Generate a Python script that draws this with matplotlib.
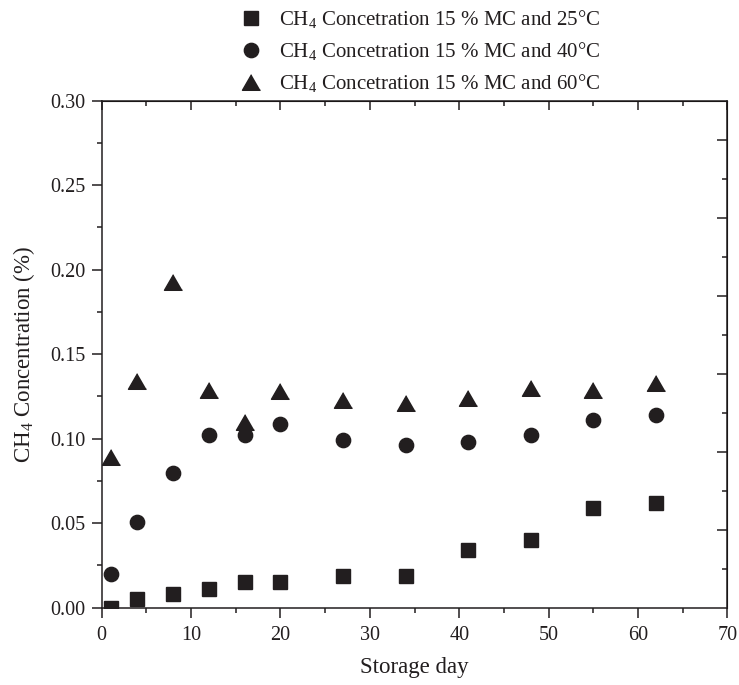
import numpy as np
import matplotlib
matplotlib.use("Agg")
import matplotlib.pyplot as plt

plt.rcParams['font.family'] = ['Liberation Serif', 'DejaVu Serif']
plt.rcParams['mathtext.fontset'] = 'custom'
plt.rcParams['mathtext.rm'] = 'Liberation Serif'

# dades llegides del gràfic
dies = [1, 4, 8, 12, 16, 20, 27, 34, 41, 48, 55, 62]
ch4_25 = [0.000, 0.005, 0.008, 0.011, 0.015, 0.0154, 0.019, 0.019, 0.034, 0.040, 0.059, 0.062]
ch4_40 = [0.020, 0.051, 0.080, 0.102, 0.102, 0.109, 0.099, 0.096, 0.098, 0.102, 0.111, 0.114]
ch4_60 = [0.089, 0.134, 0.193, 0.129, 0.110, 0.128, 0.123, 0.121, 0.124, 0.130, 0.129, 0.133]

etiquetes = [r'CH$_\mathregular{4}$ Concetration 15 % MC and 25°C',
             r'CH$_\mathregular{4}$ Concetration 15 % MC and 40°C',
             r'CH$_\mathregular{4}$ Concetration 15 % MC and 60°C']

color = '#221e1f'
triangle = [(0, 0.433), (-0.5, -0.433), (0.5, -0.433)]

fig = plt.figure(figsize=(7.39, 6.85), dpi=100)
ax = fig.add_axes([0.1376, 0.1128, 0.8466, 0.7402])

ax.plot(dies, ch4_25, ls='none', marker='s', ms=10, color=color, label=etiquetes[0])
ax.plot(dies, ch4_40, ls='none', marker='o', ms=10.3, color=color, label=etiquetes[1])
ax.plot(dies, ch4_60, ls='none', marker=triangle, ms=13, color=color, label=etiquetes[2])

ax.set_xlim(0, 70)
ax.set_ylim(0, 0.30)
ax.set_xticks(np.arange(0, 71, 10))
ax.set_xticks(np.arange(5, 70, 10), minor=True)
ax.set_yticks(np.arange(0, 0.31, 0.05))
ax.set_yticks(np.arange(0.025, 0.30, 0.05), minor=True)
ax.set_yticklabels(['%.2f' % v for v in np.arange(0, 0.31, 0.05)])

for s in ax.spines.values():
    s.set_linewidth(1.1)
    s.set_color(color)

ax.tick_params(which='both', labelsize=14.5, colors=color, width=1.1, direction='out',
               top=False, right=False)
ax.tick_params(which='major', length=7)
ax.tick_params(which='minor', length=3.8)
ax.tick_params(axis='x', pad=6.5)
ax.tick_params(axis='y', pad=4.5)

# eixos de dalt i de la dreta (ticks cap a dins)
axt = ax.secondary_xaxis('top')
axt.set_xticks(np.arange(0, 71, 10))
axt.set_xticks(np.arange(5, 70, 10), minor=True)
axt.tick_params(which='both', direction='in', labeltop=False, width=1.1, colors=color)
axt.tick_params(which='major', length=6.5)
axt.tick_params(which='minor', length=3.3)

axr = ax.secondary_yaxis('right')
pas = 0.30 / 13
axr.set_yticks([pas * k for k in range(2, 13, 2)])
axr.set_yticks([pas * k for k in range(1, 13, 2)], minor=True)
axr.tick_params(which='both', direction='in', labelright=False, width=1.1, colors=color)
axr.tick_params(which='major', length=7.5)
axr.tick_params(which='minor', length=3.8)

ax.set_xlabel('Storage day', fontsize=16.5, color=color, labelpad=8)
ax.set_ylabel(r'CH$_\mathregular{4}$ Concentration (%)', fontsize=16.5, color=color, labelpad=10)

fig.legend(loc='upper left', bbox_to_anchor=(0.311, 1.0025), frameon=False, fontsize=15,
           handlelength=1.0, handletextpad=0.85, labelspacing=0.45, borderpad=0.0,
           labelcolor=color)

fig.savefig('out.png', dpi=100)
